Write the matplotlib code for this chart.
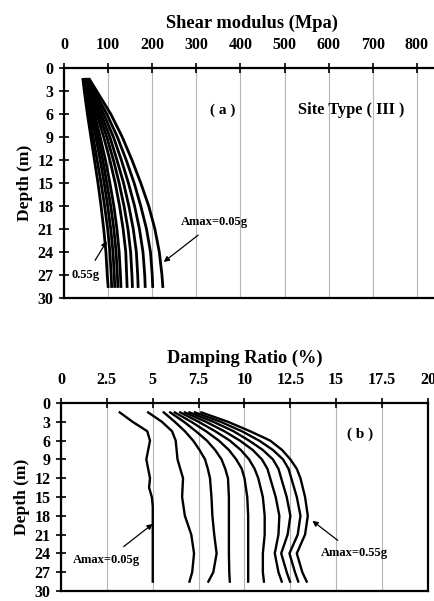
import matplotlib
matplotlib.use('Agg')
import matplotlib.pyplot as plt

plt.rcParams['font.family'] = 'Liberation Serif'
plt.rcParams['font.weight'] = 'bold'

# (a) shear modulus profiles, Amax = 0.05g ... 0.55g
depth_g = [1.5, 3, 6, 9, 12, 15, 18, 21, 24, 27, 28.5]
shear_modulus = [
    [58, 74, 106, 132, 154, 174, 192, 206, 216, 222, 224],
    [56, 69, 97, 121, 141, 159, 174, 187, 196, 200, 201],
    [54, 65, 90, 112, 130, 146, 160, 171, 179, 183, 184],
    [52, 62, 84, 104, 120, 135, 147, 157, 164, 167, 168],
    [50, 60, 79, 97, 112, 125, 136, 145, 151, 154, 155],
    [48, 57, 74, 90, 104, 116, 126, 134, 140, 142, 143],
    [47, 54, 69, 82, 94, 104, 113, 120, 125, 128, 129],
    [46, 52, 65, 77, 88, 97, 106, 113, 118, 121, 122],
    [45, 50, 61, 72, 82, 91, 99, 106, 111, 114, 115],
    [44, 48, 57, 66, 75, 84, 92, 99, 104, 107, 108],
    [43, 46, 53, 61, 69, 77, 84, 90, 95, 98, 100],
]

# (b) damping ratio profiles
depth_d1 = [1.5, 3, 4.5, 6, 7.5, 9, 10.5, 12, 13.5, 15, 16.5, 18, 21, 24, 27, 28.5]
damping_first = [3.2, 3.9, 4.7, 4.85, 4.75, 4.65, 4.75, 4.85, 4.8, 4.95, 5.0, 5.0, 5.0, 5.0, 5.0, 5.0]
depth_d = [1.5, 3, 4.5, 6, 7.5, 9, 10.5, 12, 15, 18, 21, 24, 27, 28.5]
damping = [
    [4.75, 5.5, 6.05, 6.25, 6.3, 6.35, 6.5, 6.65, 6.6, 6.75, 7.1, 7.25, 7.15, 7.0],
    [5.6, 6.2, 6.75, 7.2, 7.55, 7.85, 8.0, 8.12, 8.2, 8.25, 8.35, 8.48, 8.3, 8.03],
    [5.95, 6.7, 7.35, 7.95, 8.4, 8.75, 8.95, 9.1, 9.15, 9.15, 9.15, 9.15, 9.17, 9.2],
    [6.2, 7.1, 7.9, 8.6, 9.15, 9.55, 9.85, 10.0, 10.15, 10.2, 10.2, 10.2, 10.2, 10.2],
    [6.5, 7.5, 8.4, 9.2, 9.8, 10.25, 10.55, 10.75, 11.0, 11.1, 11.1, 11.0, 11.0, 11.06],
    [6.75, 7.9, 8.9, 9.75, 10.45, 10.95, 11.25, 11.4, 11.7, 11.9, 11.85, 11.65, 11.85, 12.03],
    [7.0, 8.3, 9.4, 10.25, 11.0, 11.55, 11.85, 12.0, 12.3, 12.5, 12.35, 12.0, 12.3, 12.48],
    [7.3, 8.7, 9.85, 10.8, 11.55, 12.1, 12.4, 12.55, 12.85, 13.05, 12.9, 12.45, 12.75, 12.93],
    [7.65, 9.1, 10.3, 11.4, 12.05, 12.5, 12.85, 13.05, 13.3, 13.45, 13.3, 12.85, 13.15, 13.39],
]

depth_ticks = list(range(0, 31, 3))
g_ticks = list(range(0, 801, 100))
d_ticks = [0, 2.5, 5, 7.5, 10, 12.5, 15, 17.5, 20]
d_ticklabels = ['0', '2.5', '5', '7.5', '10', '12.5', '15', '17.5', '20']

W, H = 435, 601
fig = plt.figure(figsize=(W / 100, H / 100), dpi=100)


def px_axes(left, top, right, bottom):
    return fig.add_axes([left / W, 1 - bottom / H, (right - left) / W, (bottom - top) / H])


def style(ax, xlabel):
    ax.set_ylim(30, 0)
    ax.set_yticks(depth_ticks)
    ax.xaxis.tick_top()
    ax.xaxis.set_label_position('top')
    ax.tick_params(axis='both', direction='inout', length=7, width=1.2, labelsize=11.5)
    ax.tick_params(axis='x', pad=7)
    ax.tick_params(axis='y', pad=4)
    ax.set_ylabel('Depth (m)', fontsize=12.5, fontweight='bold', labelpad=3)
    ax.set_xlabel(xlabel, fontsize=13.2, fontweight='bold', labelpad=7)
    ax.grid(axis='x', color='#b5b5b5', lw=0.8)
    ax.set_axisbelow(True)
    for s in ax.spines.values():
        s.set_linewidth(1.6)


arrow = dict(arrowstyle='-|>', color='black', lw=0.9, mutation_scale=8, shrinkA=5, shrinkB=0)

# ---- panel (a)
ax1 = px_axes(64, 68, 439, 298)
ax1.set_xlim(0, 850)
ax1.set_xticks(g_ticks)
style(ax1, 'Shear modulus (Mpa)')
ax1.spines['right'].set_visible(False)
for g in shear_modulus:
    ax1.plot(g, depth_g, color='black', lw=2.0)
ax1.text(359, 5.5, '( a )', fontsize=11, ha='center', va='center')
ax1.text(650, 5.5, 'Site Type ( III )', fontsize=11.8, ha='center', va='center')
ax1.annotate('Amax=0.05g', xy=(226, 25.3), xytext=(342, 20.1), fontsize=9,
             ha='center', va='center', arrowprops=arrow)
ax1.annotate('0.55g', xy=(97, 22.6), xytext=(50, 27.0), fontsize=9,
             ha='center', va='center', arrowprops=arrow)

# ---- panel (b)
ax2 = px_axes(61, 403, 428, 591)
ax2.set_xlim(0, 20)
ax2.set_xticks(d_ticks)
ax2.set_xticklabels(d_ticklabels)
style(ax2, 'Damping Ratio (%)')
ax2.plot(damping_first, depth_d1, color='black', lw=1.7)
for d in damping:
    ax2.plot(d, depth_d, color='black', lw=1.7)
ax2.text(16.3, 5.0, '( b )', fontsize=11, ha='center', va='center')
ax2.annotate('Amax=0.05g', xy=(5.0, 19.3), xytext=(2.5, 25.0), fontsize=9,
             ha='center', va='center', arrowprops=arrow)
ax2.annotate('Amax=0.55g', xy=(13.7, 18.8), xytext=(16.0, 24.0), fontsize=9,
             ha='center', va='center', arrowprops=arrow)

fig.savefig('out.png', dpi=100)
